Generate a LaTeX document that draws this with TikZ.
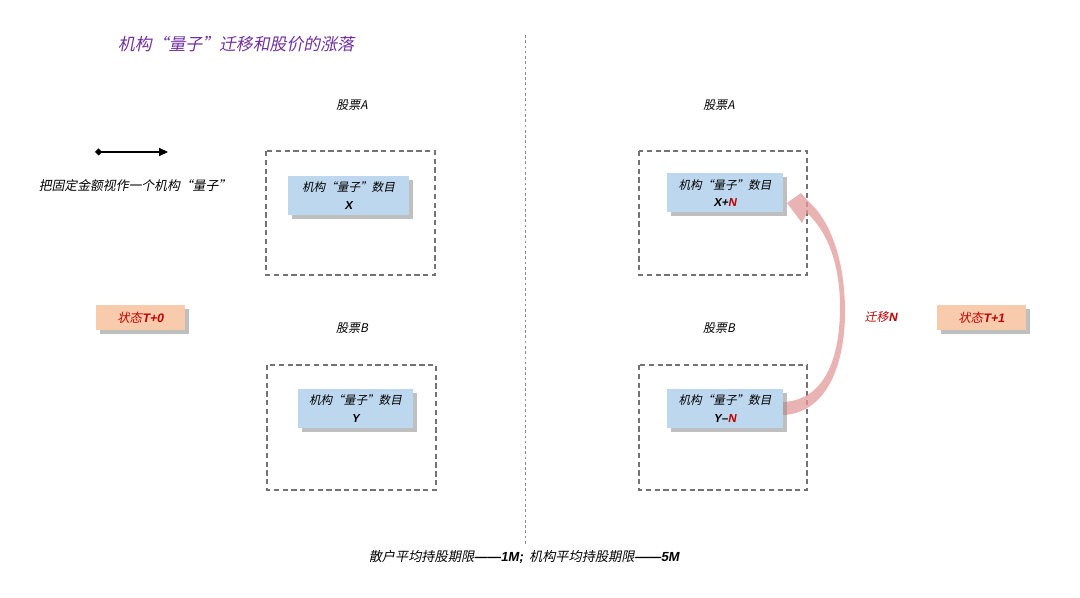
\documentclass[tikz,border=0pt]{standalone}
\usepackage{fontspec}
\usetikzlibrary{arrows.meta,shadows}
\newfontfamily\cjk[FakeSlant=0.2]{Noto Sans CJK SC}
\newfontfamily\lat[FakeSlant=0.18]{Liberation Sans}
\newdimen\px \px=0.02cm
\definecolor{qblue}{HTML}{BDD7EE}
\definecolor{peach}{HTML}{F8CBAD}
\definecolor{sred}{HTML}{C00000}
\definecolor{ttl}{HTML}{7030A0}
\definecolor{pinkarr}{HTML}{E39A9A}
\newcommand{\lb}[1]{{\lat\bfseries #1}}
\begin{document}
\begin{tikzpicture}[x=0.02cm,y=-0.02cm,
  qbox/.style={fill=qblue, draw=none, minimum width=116\px, minimum height=39\px,
    inner sep=0pt, align=center, font=\cjk\fontsize{6.6}{9.8}\selectfont,
    drop shadow={shadow xshift=2.2pt, shadow yshift=-2.2pt, fill=black!45, opacity=.55}},
  statebox/.style={fill=peach, draw=none, minimum width=89\px, minimum height=25\px,
    inner sep=0pt, text=sred, font=\cjk\fontsize{7}{8}\selectfont,
    drop shadow={shadow xshift=2.2pt, shadow yshift=-2.2pt, fill=black!45, opacity=.55}},
  dbox/.style={draw=black!55, line width=0.6pt, dash pattern=on 3pt off 2pt},
  lbl/.style={font=\cjk\fontsize{6.8}{8}\selectfont, inner sep=0pt}
]
\useasboundingbox[fill=white] (0,0) rectangle (1080,598);

% title
\node[font=\cjk\fontsize{9.6}{11}\selectfont, text=ttl, inner sep=0pt] (title) at (236,44) {机构“量子”迁移和股价的涨落};

% divider
\coordinate (dtop) at (525,35);
\coordinate (dbot) at (525,545);
\draw[black!45, line width=0.4pt, dash pattern=on 1.5pt off 1.5pt] (dtop) -- (dbot);

% legend arrow
\coordinate (la) at (95,152);
\coordinate (lb) at (168,152);
\draw[line width=0.8pt, {Diamond[length=4pt,width=4pt]}-{Triangle[length=5pt,width=4.5pt]}] (la) -- (lb);
\node[lbl, font=\cjk\fontsize{7.3}{8}\selectfont] (legend) at (135,186) {把固定金额视作一个机构“量子”};

% state boxes
\node[statebox] (s0) at (140.5,317.5) {状态\lb{T+0}};
\node[statebox] (s1) at (981.5,317.5) {状态\lb{T+1}};

% stock labels
\node[lbl] (lA) at (352,105) {股票A};
\node[lbl] (lB) at (352,328) {股票B};
\node[lbl] (rA) at (719,105) {股票A};
\node[lbl] (rB) at (719,328) {股票B};

% dashed frames
\draw[dbox] (266,151) rectangle (435,275);
\draw[dbox] (267,365) rectangle (436,490);
\draw[dbox] (639,151) rectangle (807,275);
\draw[dbox] (639,365) rectangle (807,490);

% curved migration arrow
\coordinate (abase1) at (783,415);
\coordinate (abase2) at (783,402);
\coordinate (atip) at (787,203);
\fill[pinkarr, opacity=.75]
  (abase1) .. controls (828,413) and (846,362) .. (845,307)
  .. controls (844,258) and (830,220) .. (808,201)
  -- (801,193) -- (atip) -- (802,223) -- (807,213)
  .. controls (826,230) and (840,262) .. (840,307)
  .. controls (840,356) and (826,400) .. (abase2) -- cycle;

% quantum boxes
\node[qbox, minimum width=121\px] (qA0) at (348.5,195.5) {机构“量子”数目\\\lb{X}};
\node[qbox, minimum width=115\px] (qB0) at (355.5,408.5) {机构“量子”数目\\\lb{Y}};
\node[qbox] (qA1) at (725,193) {机构“量子”数目\\\lb{X+\textcolor{sred}{N}}};
\node[qbox] (qB1) at (725,408.5) {机构“量子”数目\\\lb{Y–\textcolor{sred}{N}}};

% migration label
\node[lbl, text=sred] (mig) at (881,317) {迁移\lb{N}};

% bottom note
\node[font=\cjk\fontsize{7.5}{9}\selectfont, inner sep=0pt] (note) at (524,557) {散户平均持股期限\lb{——1M;}\ \ 机构平均持股期限\lb{——5M}};
\end{tikzpicture}
\end{document}
